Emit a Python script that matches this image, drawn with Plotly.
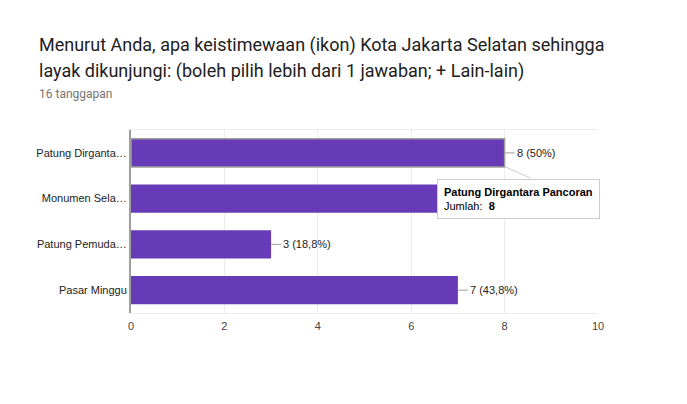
import plotly.graph_objects as go

categories = ["Patung Dirgantara Pancoran", "Monumen Selatan", "Patung Pemuda Membangun", "Pasar Minggu"]
tick_labels = ["Patung Dirganta…", "Monumen Sela…", "Patung Pemuda…", "Pasar Minggu"]
values = [8, 7, 3, 7]
percent_labels = ["8 (50%)", "7 (43,8%)", "3 (18,8%)", "7 (43,8%)"]
hovered_index = 0

BAR = "#673ab7"

fig = go.Figure()
fig.add_trace(go.Bar(
    y=categories, x=values, orientation="h",
    marker=dict(color=BAR,
                line=dict(color=["#9e9e9e" if i == hovered_index else BAR for i in range(len(values))],
                          width=[1.5 if i == hovered_index else 0 for i in range(len(values))])),
    hoverinfo="skip",
))

annotations = []
for cat, v, lab, i in zip(categories, values, percent_labels, range(len(values))):
    if i == 1:
        continue  # label hidden under tooltip in reference
    annotations.append(dict(
        x=v, y=cat, xref="x", yref="y", text=lab, showarrow=True,
        ax=10, ay=0, arrowhead=0, arrowwidth=1, arrowcolor="#9e9e9e",
        xanchor="left", font=dict(family="Liberation Sans, Arial", size=11, color="#222222"),
        standoff=0, startstandoff=0,
    ))

# Title and subtitle
annotations += [
    dict(xref="paper", yref="paper", x=(37 - 131) / 467, y=1 + (130 - 32) / 183, xanchor="left", yanchor="top",
         text="Menurut Anda, apa keistimewaan (ikon) Kota Jakarta Selatan sehingga", showarrow=False,
         font=dict(family="Roboto", size=18, color="#212121")),
    dict(xref="paper", yref="paper", x=(37 - 131) / 467, y=1 + (130 - 58) / 183, xanchor="left", yanchor="top",
         text="layak dikunjungi: (boleh pilih lebih dari 1 jawaban; + Lain-lain)", showarrow=False,
         font=dict(family="Roboto", size=18, color="#212121")),
    dict(xref="paper", yref="paper", x=(37 - 131) / 467, y=1 + (130 - 85) / 183, xanchor="left", yanchor="top",
         text="16 tanggapan", showarrow=False,
         font=dict(family="Roboto", size=12, color="#757575")),
]

# Tooltip for hovered bar
annotations.append(dict(
    xref="x", yref="paper", x=6.55, y=(313 - 179) / 183, xanchor="left", yanchor="top",
    text="<b>" + categories[hovered_index] + "</b><br>Jumlah:  <b>" + str(values[hovered_index]) + "</b>",
    showarrow=False, align="left", bgcolor="white", bordercolor="#cccccc", borderwidth=1, borderpad=6,
    font=dict(family="Liberation Sans, Arial", size=11, color="#000000"),
))

fig.update_layout(
    width=687, height=404,
    margin=dict(l=131, r=89, t=130, b=91),
    paper_bgcolor="white", plot_bgcolor="white",
    showlegend=False, bargap=0.38,
    annotations=annotations,
    xaxis=dict(range=[0, 10], tickvals=[0, 2, 4, 6, 8, 10], showgrid=True, gridcolor="#ebebeb",
               zeroline=False, showline=True, linecolor="#ebebeb", mirror=True, ticks="outside",
               ticklen=3, tickcolor="rgba(0,0,0,0)",
               tickfont=dict(family="Liberation Sans, Arial", size=11, color="#444444"), fixedrange=True),
    yaxis=dict(autorange="reversed", tickvals=categories, ticktext=tick_labels, showgrid=False,
               zeroline=False, showline=True, linecolor="#9e9e9e", linewidth=2, ticks="",
               tickfont=dict(family="Liberation Sans, Arial", size=11, color="#222222"), fixedrange=True),
)

# Pointer from hovered bar end to tooltip
fig.add_shape(type="line", xref="x", yref="y", x0=values[hovered_index], y0=0.3,
              x1=values[hovered_index] + 0.55, y1=0.55, line=dict(color="#cccccc", width=1), layer="below")

fig.write_html("out.html")
